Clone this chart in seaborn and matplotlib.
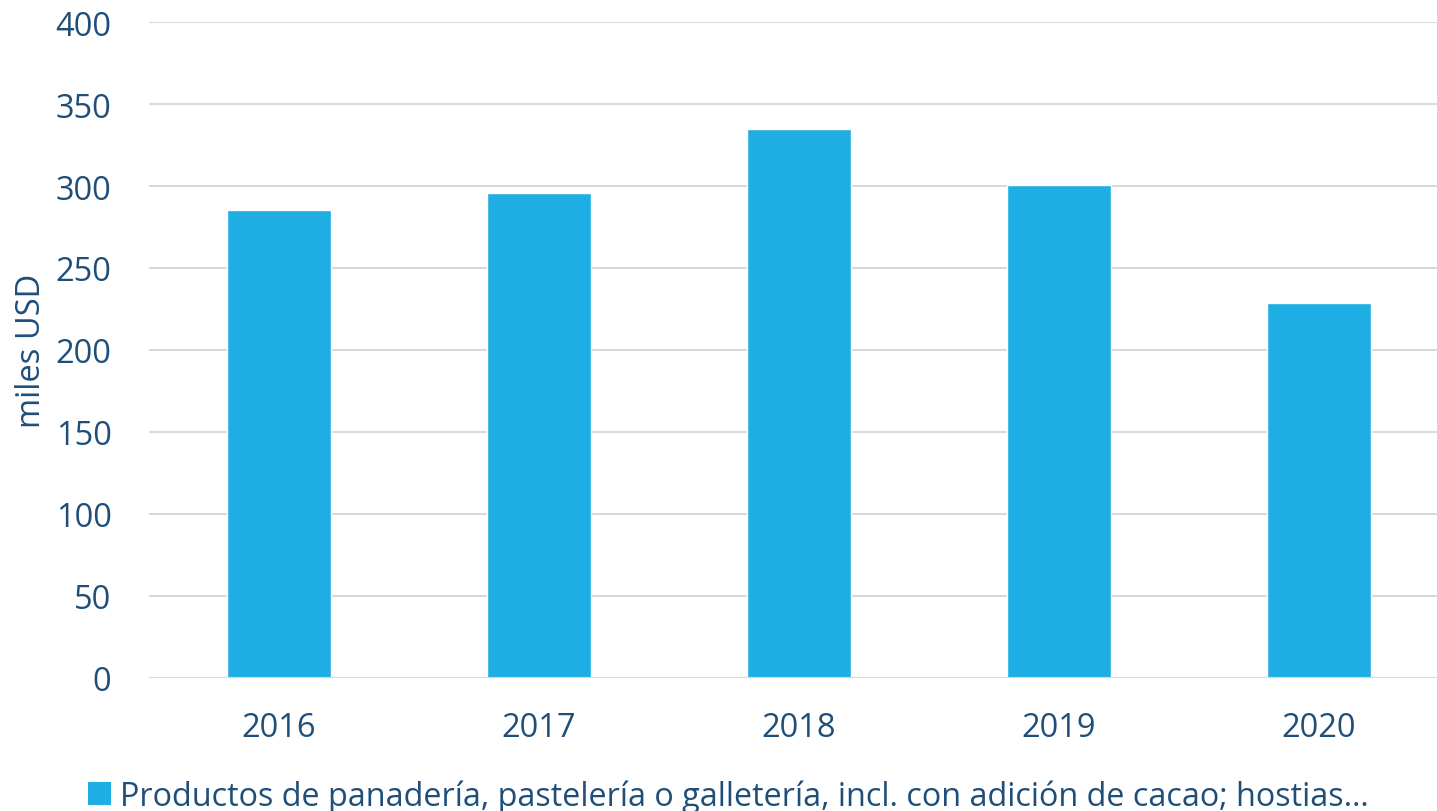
import pandas as pd
import matplotlib
matplotlib.use("Agg")
import matplotlib.pyplot as plt
import seaborn as sns
from matplotlib.patches import Patch

years = ["2016", "2017", "2018", "2019", "2020"]
values = [285.5, 295.7, 334.8, 300.6, 228.7]
series_name = "Productos de panadería, pastelería o galletería, incl. con adición de cacao; hostias…"
y_ticks = [0, 50, 100, 150, 200, 250, 300, 350, 400]

bar_color = "#1FAEE3"
text_color = "#1F4E79"

sns.set_theme(style="white")
plt.rcParams['font.family'] = ['Open Sans', 'DejaVu Sans']

df = pd.DataFrame({"year": years, "value": values})

fig = plt.figure(figsize=(14.37, 8.12), dpi=100)
ax = fig.add_axes([149 / 1437, 1 - 679 / 812, (1437 - 149) / 1437, (679 - 23) / 812])

sns.barplot(data=df, x="year", y="value", color=bar_color, width=0.4,
            saturation=1, ax=ax, zorder=3)

ax.set_ylim(0, 400)
ax.set_xlim(-0.5, 4.5 - 12 / 260)
ax.set_yticks(y_ticks)
ax.yaxis.grid(True, color="#D9D9D9", linewidth=1.5, zorder=0)
for s in ax.spines.values():
    s.set_visible(False)
ax.axhline(0, color="#D9D9D9", linewidth=1.5, zorder=4)
ax.tick_params(axis="both", length=0, labelsize=23.5, labelcolor=text_color)
ax.tick_params(axis="y", pad=27)
ax.tick_params(axis="x", pad=24)
ax.set_xlabel("")
ax.set_ylabel("miles USD", fontsize=23.5, color=text_color)
ax.yaxis.set_label_coords(-101 / 1288, 0.5)

handle = Patch(facecolor=bar_color, edgecolor="none")
fig.legend([handle], [series_name], loc="center", bbox_to_anchor=(0.507, 1 - 797 / 812),
           frameon=False, fontsize=23.3, labelcolor=text_color,
           handlelength=0.7, handleheight=0.7, handletextpad=0.3, borderaxespad=0)

fig.savefig("out.png", dpi=100)
